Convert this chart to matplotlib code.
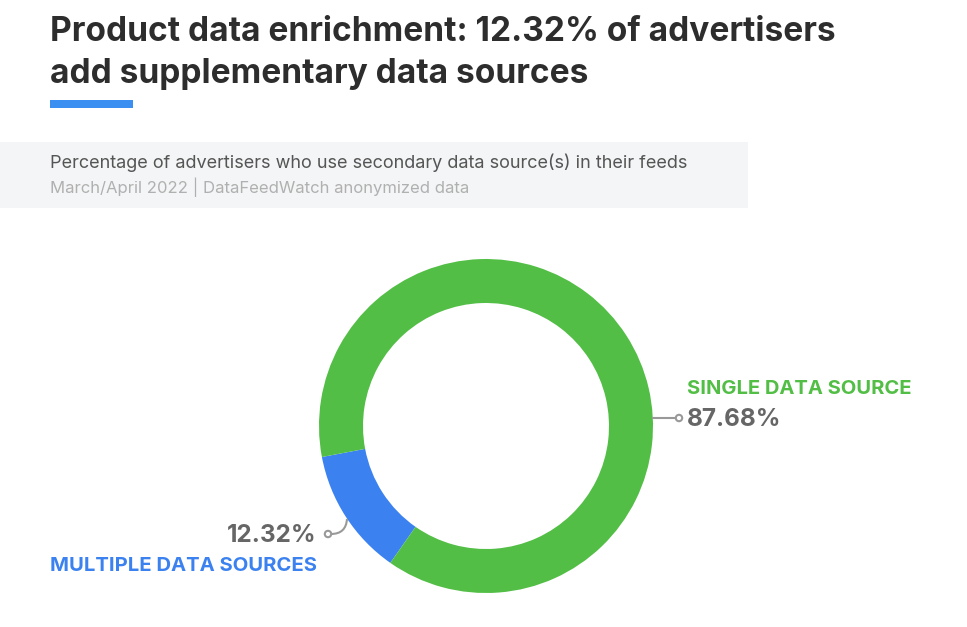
import matplotlib.pyplot as plt
from matplotlib.patches import Rectangle, Circle
from matplotlib.path import Path
from matplotlib.patches import PathPatch

# data
labels = ["MULTIPLE DATA SOURCES", "SINGLE DATA SOURCE"]
shares = [12.32, 87.68]
colors = ["#3b82f0", "#52be45"]

title_lines = ["Product data enrichment: 12.32% of advertisers",
               "add supplementary data sources"]
subtitle = "Percentage of advertisers who use secondary data source(s) in their feeds"
source = "March/April 2022 | DataFeedWatch anonymized data"

W, H = 967, 627
fig = plt.figure(figsize=(W / 100, H / 100), dpi=100)
ax = fig.add_axes([0, 0, 1, 1])

def Y(y):
    # flip pixel y (top = 0) into axis coords
    return H - y

font = "Inter"

ax.text(50, Y(41), title_lines[0], fontsize=24.1, fontweight="bold", color="#2d2d2d",
        family=font, va="baseline", ha="left")
ax.text(50, Y(83), title_lines[1], fontsize=24.1, fontweight="bold", color="#2d2d2d",
        family=font, va="baseline", ha="left")
ax.add_patch(Rectangle((50, Y(108)), 83, 8, color="#3b8ff0", lw=0))

ax.add_patch(Rectangle((0, Y(208)), 748, 66, color="#f4f5f6", lw=0))
ax.text(50, Y(163), subtitle, fontsize=13, color="#555555", family=font, va="center")
ax.text(50, Y(187), source, fontsize=12, color="#b0b0b0", family=font, va="center")

cx, cy, R = 486, Y(426), 167
ax.pie(shares, colors=colors, startangle=190.7, counterclock=True,
       center=(cx, cy), radius=R, frame=True,
       wedgeprops=dict(width=44, linewidth=0))

# connector single
ax.plot([653, 676], [Y(418), Y(418)], color="#999999", lw=1.5)
ax.add_patch(Circle((679, Y(418)), 3.2, fc="white", ec="#999999", lw=1.5, zorder=3))
ax.text(687, Y(389), labels[1], fontsize=14.5, fontweight="bold", color=colors[1],
        family=font, va="center", ha="left")
ax.text(687, Y(420), f"{shares[1]:.2f}%", fontsize=17.5, fontweight="bold",
        color="#666666", family=font, va="center", ha="left")

# connector multiple
p = Path([(331, Y(534)), (346, Y(534)), (347, Y(519))],
         [Path.MOVETO, Path.CURVE3, Path.CURVE3])
ax.add_patch(PathPatch(p, fc="none", ec="#999999", lw=1.5))
ax.add_patch(Circle((328, Y(534)), 3.2, fc="white", ec="#999999", lw=1.5, zorder=3))
ax.text(317, Y(536), f"{shares[0]:.2f}%", fontsize=17.5, fontweight="bold",
        color="#666666", family=font, va="center", ha="right")
ax.text(317, Y(566), labels[0], fontsize=14.6, fontweight="bold", color=colors[0],
        family=font, va="center", ha="right")

ax.set_xlim(0, W)
ax.set_ylim(0, H)
ax.set_aspect("auto")
ax.axis("off")

fig.savefig("out.png", dpi=100, facecolor="white")
